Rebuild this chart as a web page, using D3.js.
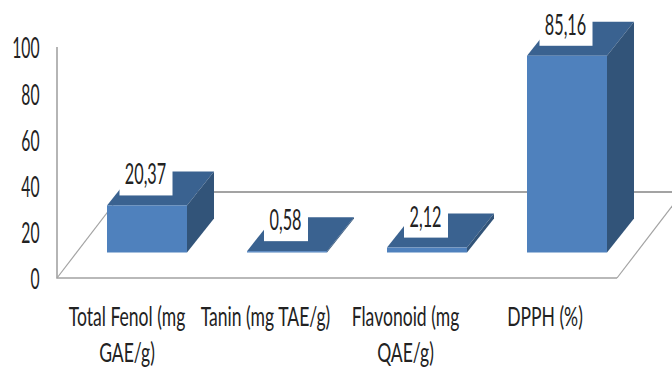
<!DOCTYPE html>
<html><head><meta charset="utf-8">
<script src="https://cdn.jsdelivr.net/npm/d3@7/dist/d3.min.js"></script>
<style>
html,body{margin:0;background:#fff}
text{font-family:Lato,"Liberation Sans",sans-serif;fill:#222}
</style></head><body><svg id="c" width="672" height="369"></svg>
<script>
const categories = [["Total Fenol (mg","GAE/g)"],["Tanin (mg TAE/g)"],["Flavonoid (mg","QAE/g)"],["DPPH (%)"]];
const values = [20.37, 0.58, 2.12, 85.16];
const valueLabels = ["20,37","0,58","2,12","85,16"];
const yTicks = [0,20,40,60,80,100];

const svg = d3.select("#c");
const y = d3.scaleLinear().domain([0,100]).range([278,47]);
const x = d3.scaleBand().domain(d3.range(4)).range([77,637]).paddingInner(0.4286).paddingOuter(0.2143);
const floorLeft = 57, floorRight = 617, floorFront = y(0), floorBack = 192, floorDx = 66;
const baseY = 252.5, depthX = 27, depthY = 34;

// Tall condensed type, as in a chart exported at a stretched aspect
const stretched = (sel, px, py, sx) => sel.attr("transform", `translate(${px},${py}) scale(${sx},1)`);

// Wall and floor outline
const frame = svg.append("g").attr("fill","none").attr("stroke","#a3a3a3");
frame.append("path").attr("stroke-width",1.6)
  .attr("d",`M${floorLeft},${y(100)}V${floorFront}H${floorRight}`);
frame.append("path").attr("stroke-width",1.2)
  .attr("d",`M${floorLeft},${floorFront}L${floorLeft+floorDx},${floorBack}`);
frame.append("path").attr("stroke-width",1.2)
  .attr("d",`M${floorRight},${floorFront}L${floorRight+floorDx},${floorBack}`);
frame.append("path").attr("stroke-width",2)
  .attr("d",`M${floorLeft+floorDx},${floorBack}H672`);

// Value axis labels
const axis = svg.append("g").attr("transform","translate(39.5,0.5)")
  .call(d3.axisLeft(y).tickValues(yTicks).tickSize(0).tickPadding(0));
axis.select(".domain").remove();
axis.selectAll("text").attr("font-size",28).attr("dy",null).attr("text-anchor","end")
  .attr("dominant-baseline","central").attr("transform","scale(0.56,1)");

// Bars as three visible faces of a box
const bars = svg.append("g").selectAll("g").data(values).join("g");
bars.append("path").attr("fill","#3a6290")
  .attr("d",(v,i)=>{const l=x(i),r=l+x.bandwidth(),t=baseY-(y(0)-y(v));
    return `M${l},${t}L${l+depthX},${t-depthY}H${r+depthX}L${r},${t}Z`;});
bars.append("path").attr("fill","#325479")
  .attr("d",(v,i)=>{const r=x(i)+x.bandwidth(),t=baseY-(y(0)-y(v));
    return `M${r},${t}L${r+depthX},${t-depthY}V${baseY-depthY}L${r},${baseY}Z`;});
bars.append("rect").attr("fill","#4f81bd")
  .attr("x",(v,i)=>x(i)).attr("width",x.bandwidth())
  .attr("y",v=>baseY-(y(0)-y(v))).attr("height",v=>y(0)-y(v));

// Value labels sit on white plates over the bar tops
const labelWidths = [53,44,44,53];
const labels = svg.append("g").selectAll("g").data(values).join("g");
labels.append("rect").attr("fill","#fff")
  .attr("x",(v,i)=>x(i)+x.bandwidth()/2-1-labelWidths[i]/2)
  .attr("width",(v,i)=>labelWidths[i])
  .attr("y",v=>baseY-(y(0)-y(v))-10-36).attr("height",36);
labels.append("text").attr("font-size",28).attr("text-anchor","middle")
  .attr("dominant-baseline","central")
  .each(function(v,i){
    stretched(d3.select(this), x(i)+x.bandwidth()/2-1.5, baseY-(y(0)-y(v))-10-22, 0.58);
  })
  .text((v,i)=>valueLabels[i]);

// Category labels, wrapped over two lines where needed
const catX = [127,265.5,405.5,545];
svg.append("g").selectAll("text").data(categories).join("text")
  .attr("font-size",27).attr("text-anchor","middle")
  .each(function(lines,i){
    const t=d3.select(this);
    stretched(t,catX[i],0,0.65);
    t.selectAll("tspan").data(lines).join("tspan").attr("x",0)
      .attr("y",(d,k)=>326.5+k*36).text(d=>d);
  });
</script></body></html>
